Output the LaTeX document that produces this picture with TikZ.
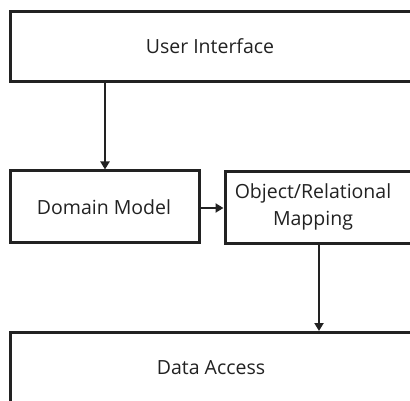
\documentclass[tikz,border=0pt]{standalone}
\usepackage{fontspec}
\setmainfont{Open Sans}
\usetikzlibrary{arrows.meta}
\definecolor{ink}{HTML}{222222}
\begin{document}
\begin{tikzpicture}[x=1pt,y=-1pt,
  box/.style={draw=ink,line width=3pt,fill=white},
  lbl/.style={font=\fontsize{19.5}{27}\selectfont,text=ink,align=center,inner sep=0pt},
  conn/.style={draw=ink,line width=2.2pt,-{Triangle[length=8pt,width=9pt]}}]
\useasboundingbox (0,0) rectangle (410,401);
\clip (0,0) rectangle (410,401);
\fill[white] (0,0) rectangle (410,401);
% boxes
\draw[box] (10.5,11.5) rectangle (411,82);
\draw[box] (10.5,171) rectangle (199,242.5);
\draw[box] (225,172) rectangle (414,243);
\draw[box] (10.5,332.5) rectangle (411,420);
% labels
\node[lbl] (ui) at (210,46) {User Interface};
\node[lbl] (dm) at (104,207) {Domain Model};
\node[lbl] (orm) at (313,207) {Object/Relational\\Mapping};
\node[lbl] (da) at (211,368) {Data Access};
% anchors for connectors
\coordinate (uiB) at (105,83);
\coordinate (dmT) at (105,169.5);
\coordinate (dmR) at (200,208);
\coordinate (ormL) at (223.5,208);
\coordinate (ormB) at (319,244);
\coordinate (daT) at (319,331);
\draw[conn] (uiB) -- (dmT);
\draw[conn] (dmR) -- (ormL);
\draw[conn] (ormB) -- (daT);
\end{tikzpicture}
\end{document}
